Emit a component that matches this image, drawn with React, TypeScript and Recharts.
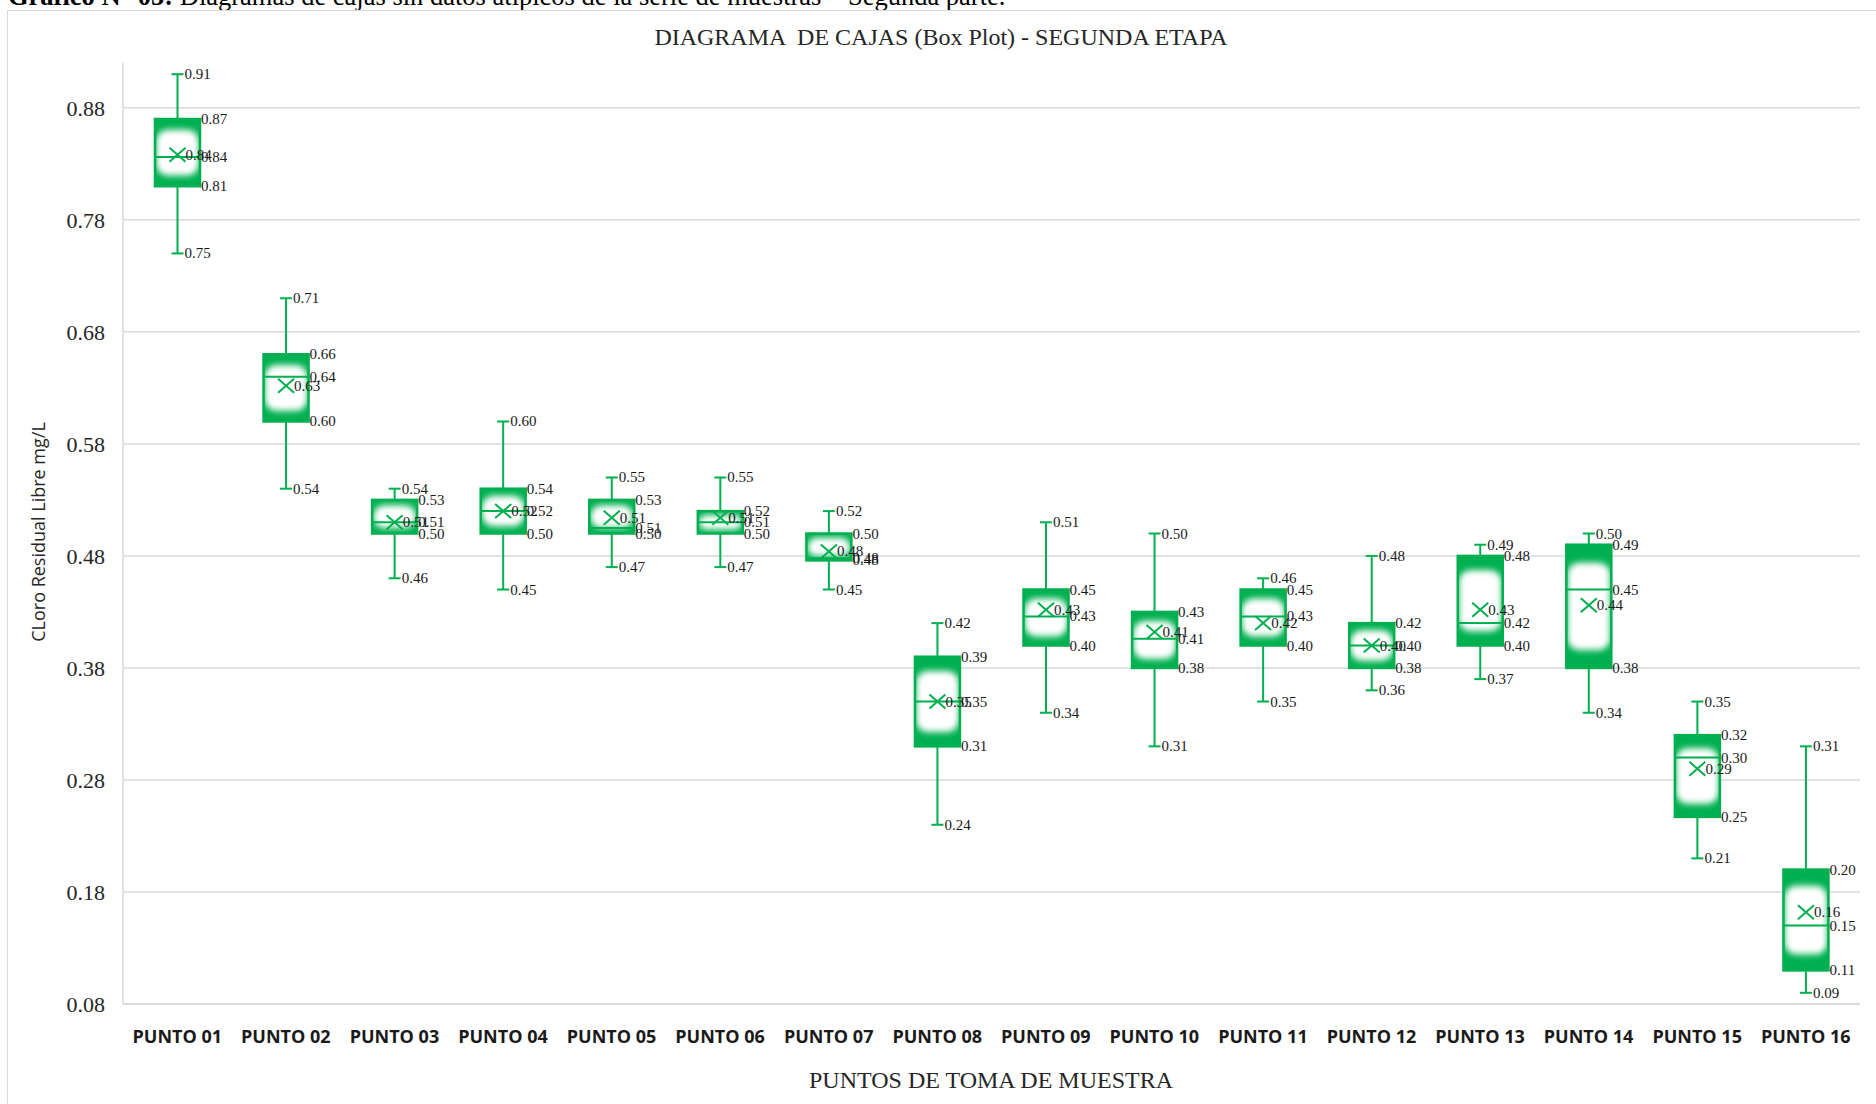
import React from "react";
import { BarChart, Bar, XAxis, YAxis, CartesianGrid } from "recharts";

const puntos = [
  "PUNTO 01", "PUNTO 02", "PUNTO 03", "PUNTO 04", "PUNTO 05", "PUNTO 06", "PUNTO 07", "PUNTO 08",
  "PUNTO 09", "PUNTO 10", "PUNTO 11", "PUNTO 12", "PUNTO 13", "PUNTO 14", "PUNTO 15", "PUNTO 16",
];
const minimos = [0.75, 0.54, 0.46, 0.45, 0.47, 0.47, 0.45, 0.24, 0.34, 0.31, 0.35, 0.36, 0.37, 0.34, 0.21, 0.09];
const cuartil1 = [0.81, 0.6, 0.5, 0.5, 0.5, 0.5, 0.476, 0.31, 0.4, 0.38, 0.4, 0.38, 0.4, 0.38, 0.247, 0.11];
const medianas = [0.836, 0.64, 0.51, 0.52, 0.505, 0.51, 0.478, 0.35, 0.426, 0.406, 0.426, 0.4, 0.42, 0.45, 0.3, 0.15];
const cuartil3 = [0.87, 0.66, 0.53, 0.54, 0.53, 0.52, 0.5, 0.39, 0.45, 0.43, 0.45, 0.42, 0.48, 0.49, 0.32, 0.2];
const maximos = [0.91, 0.71, 0.54, 0.6, 0.55, 0.55, 0.52, 0.42, 0.51, 0.5, 0.46, 0.48, 0.49, 0.5, 0.35, 0.31];
const medias = [0.838, 0.632, 0.51, 0.52, 0.514, 0.514, 0.484, 0.35, 0.432, 0.412, 0.42, 0.4, 0.432, 0.436, 0.29, 0.162];
const ticksY = [0.08, 0.18, 0.28, 0.38, 0.48, 0.58, 0.68, 0.78, 0.88];
const dominioY = [0.08, 0.92];

const data = puntos.map((name, i) => ({
  name,
  rango: [minimos[i], maximos[i]],
  min: minimos[i],
  q1: cuartil1[i],
  med: medianas[i],
  q3: cuartil3[i],
  max: maximos[i],
  media: medias[i],
}));

const VERDE = "#00B050";
const serif = "'Liberation Serif', 'Times New Roman', serif";

function CajaShape(props: any) {
  const { x, y, width, height, payload, index } = props;
  const top = Math.min(y, y + height);
  const alto = Math.abs(height);
  const escala = alto / (payload.max - payload.min);
  const py = (v: number) => top + (payload.max - v) * escala;
  const cx = x + width / 2;
  const right = x + width;
  const yq3 = py(payload.q3);
  const yq1 = py(payload.q1);
  const ymed = py(payload.med);
  const ymean = py(payload.media);
  const ymax = py(payload.max);
  const ymin = py(payload.min);
  const hCaja = yq1 - yq3;
  // banda verde arriba/abajo, el centro blanco difuminado (relleno tipo Excel)
  const banda = Math.max(4, Math.min(18, hCaja * 0.16));
  const fid = `caja-blur-${index}`;
  const cid = `caja-clip-${index}`;
  const lbl = (tx: number, ty: number, v: number) => (
    <text x={tx} y={ty + 5} fontFamily={serif} fontSize={15} fill="#1a1a1a">
      {v.toFixed(2)}
    </text>
  );
  return (
    <g>
      <defs>
        <filter id={fid} x="-50%" y="-50%" width="200%" height="200%">
          <feGaussianBlur stdDeviation={3.2} />
        </filter>
        <clipPath id={cid}>
          <rect x={x} y={yq3} width={width} height={hCaja} />
        </clipPath>
      </defs>
      {/* bigotes */}
      <line x1={cx} x2={cx} y1={ymax} y2={yq3} stroke={VERDE} strokeWidth={2} />
      <line x1={cx} x2={cx} y1={yq1} y2={ymin} stroke={VERDE} strokeWidth={2} />
      <line x1={cx - 6} x2={cx + 6} y1={ymax} y2={ymax} stroke={VERDE} strokeWidth={2} />
      <line x1={cx - 6} x2={cx + 6} y1={ymin} y2={ymin} stroke={VERDE} strokeWidth={2} />
      {/* caja */}
      <rect x={x} y={yq3} width={width} height={hCaja} fill={VERDE} />
      <g clipPath={`url(#${cid})`}>
        <rect
          x={x + 1}
          y={yq3 + banda}
          width={width - 2}
          height={Math.max(1, hCaja - 2 * banda)}
          rx={Math.min(12, (hCaja - 2 * banda) / 2)}
          fill="#ffffff"
          filter={`url(#${fid})`}
        />
      </g>
      <rect x={x} y={yq3} width={width} height={hCaja} fill="none" stroke={VERDE} strokeWidth={2.5} />
      <line x1={x} x2={right} y1={ymed} y2={ymed} stroke={VERDE} strokeWidth={2} />
      {/* media */}
      <line x1={cx - 8} x2={cx + 8} y1={ymean - 7} y2={ymean + 7} stroke={VERDE} strokeWidth={2} />
      <line x1={cx - 8} x2={cx + 8} y1={ymean + 7} y2={ymean - 7} stroke={VERDE} strokeWidth={2} />
      {lbl(cx + 7, ymax, payload.max)}
      {lbl(cx + 7, ymin, payload.min)}
      {lbl(right + 1, yq3, payload.q3)}
      {lbl(right + 1, yq1, payload.q1)}
      {lbl(right + 1, ymed, payload.med)}
      {lbl(cx + 8, ymean, payload.media)}
    </g>
  );
}

// lineas de la grilla solo en los ticks (sin linea en el borde superior)
const gridY = (p: any) => {
  const s = p?.yAxis?.scale;
  if (typeof s === "function") return ticksY.map((t) => s(t));
  const { top, height } = p.offset;
  return ticksY.map((t) => top + ((dominioY[1] - t) / (dominioY[1] - dominioY[0])) * height);
};

export default function App() {
  return (
    <div style={{ position: "absolute", left: 0, top: 0, width: 1876, height: 1104, overflow: "hidden", background: "#fff" }}>
      <div
        style={{
          position: "absolute", left: 8, top: -17, fontFamily: serif, fontSize: 26.5, lineHeight: 1,
          whiteSpace: "nowrap", color: "#000",
        }}
      >
        <b>Gráfico N° 05:</b> Diagramas de cajas sin datos atípicos de la serie de muestras – Segunda parte.
      </div>
      <div style={{ position: "absolute", left: 7, top: 10, right: 0, bottom: 0, borderLeft: "1px solid #d9d9d9", borderTop: "1px solid #d9d9d9" }} />
      <div
        style={{
          position: "absolute", left: 941, top: 37, transform: "translate(-50%, -50%)", fontFamily: serif,
          fontSize: 24, color: "#262626", whiteSpace: "pre",
        }}
      >
        DIAGRAMA  DE CAJAS (Box Plot) - SEGUNDA ETAPA
      </div>
      <div
        style={{
          position: "absolute", left: 38, top: 532, transform: "translate(-50%, -50%) rotate(-90deg)",
          fontFamily: "'Open Sans', sans-serif", fontSize: 18, color: "#262626", whiteSpace: "nowrap",
        }}
      >
        CLoro Residual Libre mg/L
      </div>
      <div
        style={{
          position: "absolute", left: 991, top: 1080, transform: "translate(-50%, -50%)", fontFamily: serif,
          fontSize: 24, color: "#262626", whiteSpace: "nowrap",
        }}
      >
        PUNTOS DE TOMA DE MUESTRA
      </div>
      <div style={{ position: "absolute", left: 0, top: 0 }}>
        <BarChart width={1876} height={1104} data={data} margin={{ top: 63, right: 16, bottom: 70, left: 63 }}>
          <CartesianGrid vertical={false} stroke="#d9d9d9" strokeWidth={1.5} horizontalCoordinatesGenerator={gridY} />
          <XAxis
            dataKey="name"
            height={30}
            axisLine={{ stroke: "#d9d9d9", strokeWidth: 1.5 }}
            tickLine={false}
            tickSize={0}
            tickMargin={26}
            interval={0}
            tick={{ fontFamily: "'Open Sans', sans-serif", fontWeight: 700, fontSize: 18, fill: "#1a1a1a" }}
          />
          <YAxis
            width={60}
            domain={dominioY}
            ticks={ticksY}
            tickFormatter={(v: number) => v.toFixed(2)}
            axisLine={{ stroke: "#d9d9d9", strokeWidth: 1.5 }}
            tickLine={false}
            tickSize={0}
            tickMargin={18}
            tick={{ fontFamily: serif, fontSize: 22, fill: "#262626" }}
          />
          <Bar dataKey="rango" barSize={45} shape={CajaShape} isAnimationActive={false} />
        </BarChart>
      </div>
    </div>
  );
}
